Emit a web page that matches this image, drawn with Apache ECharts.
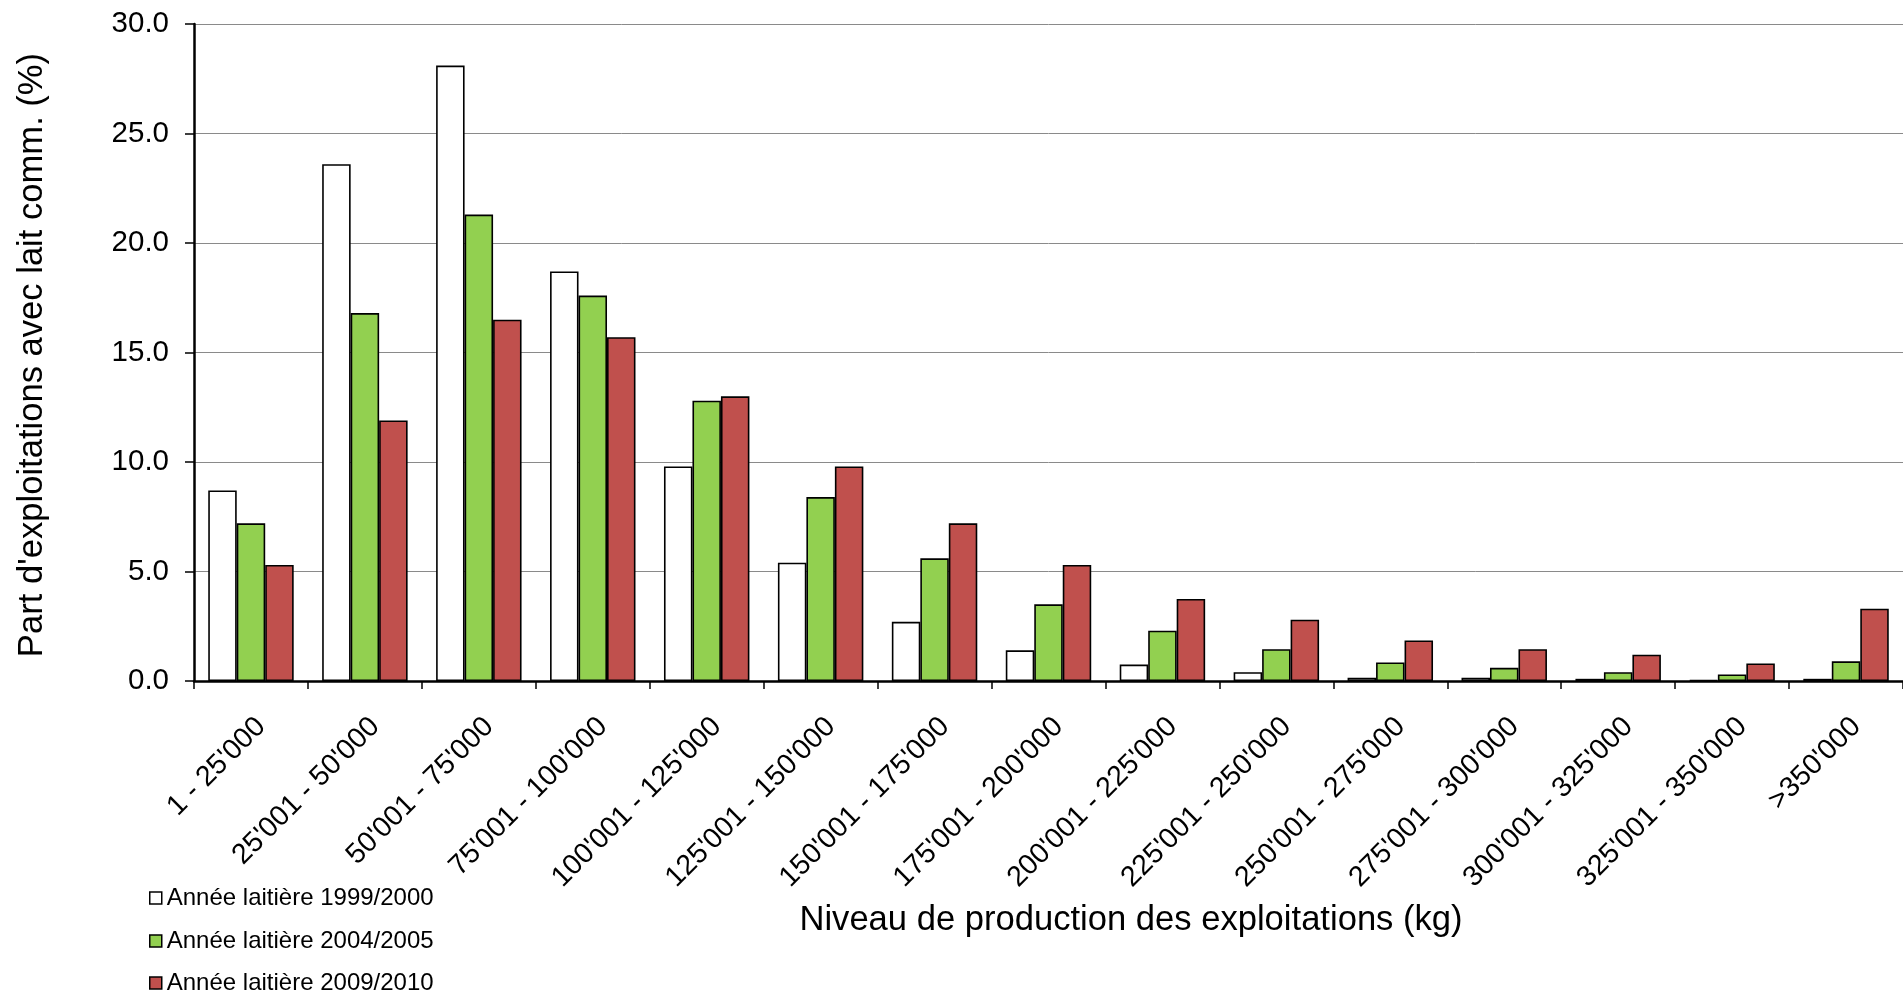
<!DOCTYPE html>
<html>
<head>
<meta charset="utf-8">
<script src="https://cdn.jsdelivr.net/npm/echarts@6/dist/echarts.min.js"></script>
<style>
html,body{margin:0;padding:0;background:#fff;}
#chart{width:1903px;height:991px;}
</style>
</head>
<body>
<div id="chart"></div>
<script>
const categories = ["1 - 25'000","25'001 - 50'000","50'001 - 75'000","75'001 - 100'000","100'001 - 125'000","125'001 - 150'000","150'001 - 175'000","175'001 - 200'000","200'001 - 225'000","225'001 - 250'000","250'001 - 275'000","275'001 - 300'000","300'001 - 325'000","325'001 - 350'000",">350'000"];
const seriesNames = ["Année laitière 1999/2000","Année laitière 2004/2005","Année laitière 2009/2010"];
const values1999 = [8.7, 23.6, 28.1, 18.7, 9.8, 5.4, 2.7, 1.4, 0.75, 0.4, 0.15, 0.15, 0.1, 0.03, 0.1];
const values2004 = [7.2, 16.8, 21.3, 17.6, 12.8, 8.4, 5.6, 3.5, 2.3, 1.45, 0.85, 0.6, 0.4, 0.3, 0.9];
const values2009 = [5.3, 11.9, 16.5, 15.7, 13.0, 9.8, 7.2, 5.3, 3.75, 2.8, 1.85, 1.45, 1.2, 0.8, 3.3];
const yTicks = [0, 5, 10, 15, 20, 25, 30];
const xTitle = "Niveau de production des exploitations (kg)";
const yTitle = "Part d'exploitations avec lait comm. (%)";

const FONT = "'Liberation Sans', Arial, sans-serif";
const colors = ['#FFFFFF', '#92D050', '#C0504D'];
const allValues = [values1999, values2004, values2009];
const legendCenters = [898, 941, 983];

const chart = echarts.init(document.getElementById('chart'), null, {renderer: 'canvas'});
chart.setOption({
  animation: false,
  backgroundColor: '#fff',
  textStyle: {fontFamily: FONT, color: '#000'},
  grid: {left: 194, top: 24, width: 1725, height: 657, containLabel: false},
  legend: seriesNames.map((name, i) => ({
    orient: 'horizontal',
    left: 149,
    top: legendCenters[i] - 12,
    padding: 0,
    itemWidth: 12,
    itemHeight: 12,
    icon: 'rect',
    itemStyle: {borderColor: '#000', borderWidth: 1.5},
    textStyle: {fontSize: 24, color: '#000', fontFamily: FONT, lineHeight: 24},
    data: [name]
  })),
  xAxis: {
    type: 'category',
    data: categories,
    boundaryGap: true,
    axisLine: {lineStyle: {color: '#000', width: 2.5}},
    axisTick: {show: true, length: 8, alignWithLabel: false, lineStyle: {color: '#000', width: 1.5}},
    axisLabel: {
      interval: 0, rotate: 45, margin: 31, fontSize: 28.5, color: '#000', fontFamily: FONT,
      verticalAlign: 'top'
    },
    splitLine: {show: false}
  },
  yAxis: {
    type: 'value',
    min: yTicks[0],
    max: yTicks[yTicks.length - 1],
    interval: 5,
    axisLine: {show: true, lineStyle: {color: '#000', width: 2.5}},
    axisTick: {show: true, length: 9, lineStyle: {color: '#000', width: 1.5}},
    axisLabel: {margin: 25, fontSize: 29.5, color: '#000', fontFamily: FONT, formatter: v => v.toFixed(1)},
    splitLine: {show: true, lineStyle: {color: '#8a8a8a', width: 1}}
  },
  graphic: [
    {type: 'text', x: 1131, y: 920,
     style: {text: xTitle, font: '34.6px ' + FONT, fill: '#000', textAlign: 'center', textVerticalAlign: 'middle'}},
    {type: 'text', x: 32, y: 355, rotation: Math.PI / 2,
     style: {text: yTitle, font: '34.6px ' + FONT, fill: '#000', textAlign: 'center', textVerticalAlign: 'middle'}}
  ],
  series: seriesNames.map((name, i) => ({
    name: name,
    type: 'bar',
    data: allValues[i],
    barGap: '0%',
    barCategoryGap: '25%',
    itemStyle: {color: colors[i], borderColor: '#000', borderWidth: 1.6}
  }))
});
</script>
</body>
</html>
